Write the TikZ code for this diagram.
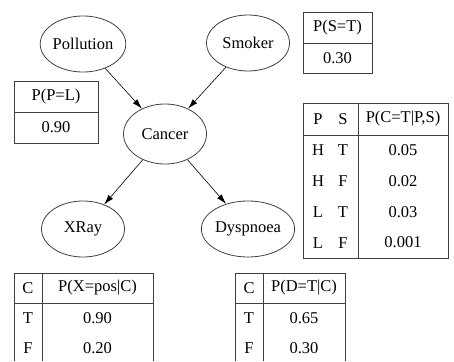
\documentclass[tikz,border=0pt]{standalone}
\usepackage{fontspec}
\setmainfont{Liberation Serif}
\usepackage{tikz}
\usetikzlibrary{shapes.geometric,arrows.meta}
\newcommand{\cell}[3]{\node[celltext] (#1) at (#2) {#3};}

\begin{document}
\begin{tikzpicture}[x=1pt,y=-1pt,
    every node/.style={font=\rmfamily\fontsize{16.5}{19}\selectfont},
    var/.style={draw=black!75,line width=.8pt,ellipse,minimum width=83pt,minimum height=56pt,inner sep=0pt},
    celltext/.style={inner sep=0pt,anchor=center},
    tab/.style={draw=black!75,line width=.8pt},
    edge/.style={-{Latex[length=10pt,width=6pt]},line width=.6pt}]
    \useasboundingbox (0,0) rectangle (454,361);

    \node[var] (pol) at (83,44) {Pollution};
    \node[var] (smk) at (248,43) {Smoker};
    \node[var,minimum height=60pt] (can) at (165,134) {Cancer};
    \node[var] (xry) at (83,229) {XRay};
    \node[var] (dys) at (248,229) {Dyspnoea};

    \draw[edge] (pol) -- (can);
    \draw[edge] (smk) -- (can);
    \draw[edge] (can) -- (xry);
    \draw[edge] (can) -- (dys);

    % prior tables
    \draw[tab] (303,12) rectangle (372,73);
    \draw[tab] (303,43) -- (372,43);
    \cell{sh}{337.5,28}{P(S=T)}
    \cell{sv}{337.5,58.5}{0.30}

    \draw[tab] (14,81) rectangle (98,143);
    \draw[tab] (14,112) -- (98,112);
    \cell{ph}{56,96.5}{P(P=L)}
    \cell{pv}{56,127.5}{0.90}

    % cancer table
    \draw[tab] (303,103) rectangle (448,258);
    \draw[tab] (303,135) -- (448,135);
    \draw[tab] (358,103) -- (358,258);
    \cell{chp}{318,119}{P}
    \cell{chs}{343,119}{S}
    \cell{chv}{403,119}{P(C=T|P,S)}
    \foreach \p/\s/\v [count=\i] in {H/T/0.05,H/F/0.02,L/T/0.03,L/F/0.001}
      {
      \cell{cp\i}{318,135+30.75*\i-15.4}{\p}
      \cell{cs\i}{343,135+30.75*\i-15.4}{\s}
      \cell{cv\i}{403,135+30.75*\i-15.4}{\v}
      }

    % xray table
    \draw[tab] (14,361) -- (14,273) -- (153,273) -- (153,361);
    \draw[tab] (14,303) -- (153,303);
    \draw[tab] (42,273) -- (42,361);
    \cell{xhc}{28,288}{C}
    \cell{xhv}{97.5,288}{P(X=pos|C)}
    \cell{xc1}{28,318}{T}
    \cell{xv1}{97.5,318}{0.90}
    \cell{xc2}{28,348}{F}
    \cell{xv2}{97.5,348}{0.20}

    % dyspnoea table
    \draw[tab] (235,361) -- (235,273) -- (345,273) -- (345,361);
    \draw[tab] (235,303) -- (345,303);
    \draw[tab] (263,273) -- (263,361);
    \cell{dhc}{249,288}{C}
    \cell{dhv}{304,288}{P(D=T|C)}
    \cell{dc1}{249,318}{T}
    \cell{dv1}{304,318}{0.65}
    \cell{dc2}{249,348}{F}
    \cell{dv2}{304,348}{0.30}
\end{tikzpicture}
\end{document}
